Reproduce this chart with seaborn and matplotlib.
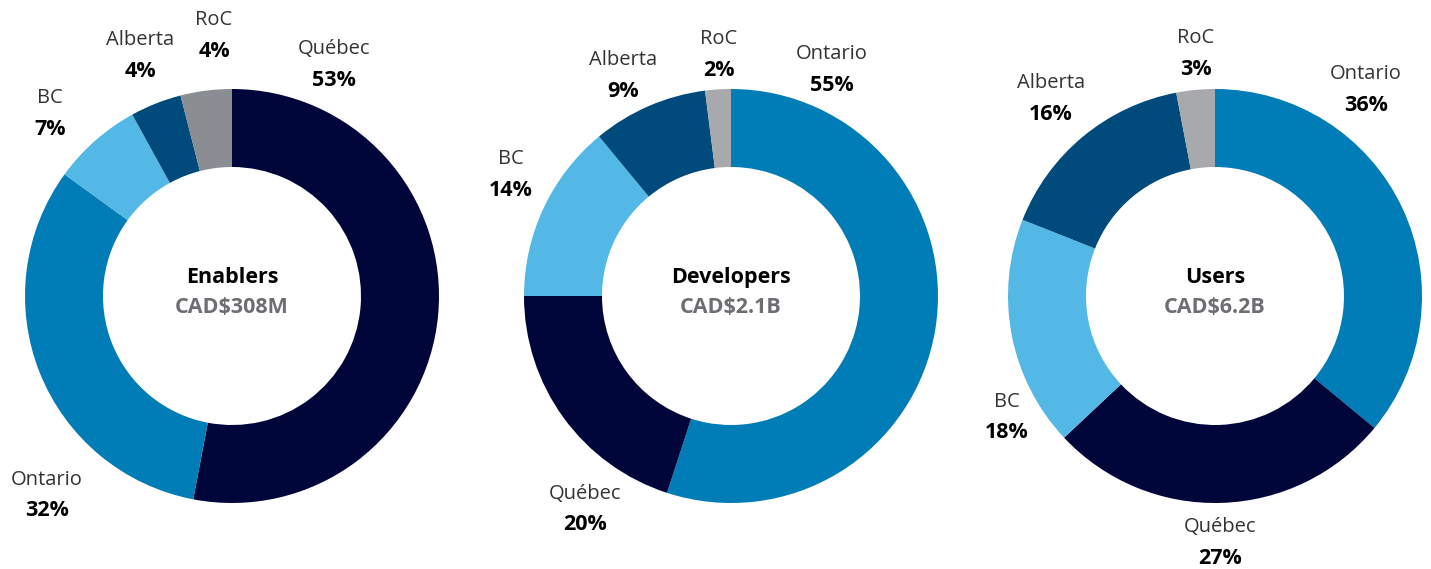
import matplotlib
matplotlib.use("Agg")
import matplotlib.pyplot as plt
import seaborn as sns

sns.set_theme(style="white")
plt.rcParams['font.family'] = ['Open Sans', 'DejaVu Sans']

# ---- data ----
titles = ["Enablers", "Developers", "Users"]
subtitles = ["CAD$308M", "CAD$2.1B", "CAD$6.2B"]
regions_1 = ["Québec", "Ontario", "BC", "Alberta", "RoC"]
values_1 = [53, 32, 7, 4, 4]
regions_2 = ["Ontario", "Québec", "BC", "Alberta", "RoC"]
values_2 = [55, 20, 14, 9, 2]
regions_3 = ["Ontario", "Québec", "BC", "Alberta", "RoC"]
values_3 = [36, 27, 18, 16, 3]

# ---- style ----
region_colors = {
    "Québec": "#00063A",
    "Ontario": "#007CB7",
    "BC": "#53B8E6",
    "Alberta": "#004A7C",
}
roc_colors = ["#8A8D91", "#A7A9AC", "#A7A9AC"]

W, H = 1431, 569
centers = [(232, 296), (731, 296), (1215, 296)]
R_OUT = 207
R_IN = 129

# label offsets (pixels, relative to chart centre) for name line
label_offsets = [
    {"Québec": (102, -247), "Ontario": (-185, 184), "BC": (-182, -198),
     "Alberta": (-92, -256), "RoC": (-18, -276)},
    {"Ontario": (101, -242), "Québec": (-146, 198), "BC": (-220, -137),
     "Alberta": (-108, -236), "RoC": (-12, -257)},
    {"Ontario": (151, -222), "Québec": (5, 231), "BC": (-208, 106),
     "Alberta": (-164, -213), "RoC": (-19, -258)},
]

fig = plt.figure(figsize=(W / 100, H / 100), dpi=100)
ax = fig.add_axes([0, 0, 1, 1])

all_regions = [regions_1, regions_2, regions_3]
all_values = [values_1, values_2, values_3]

for i in range(3):
    regs = all_regions[i]
    vals = all_values[i]
    cols = [region_colors.get(r, roc_colors[i]) for r in regs]
    cx, cy = centers[i]
    ax.pie(vals, colors=cols, startangle=90, counterclock=False,
           radius=R_OUT, center=(cx, H - cy),
           wedgeprops=dict(width=R_OUT - R_IN, edgecolor="none", linewidth=0))
    ax.text(cx, H - cy + 19, titles[i], ha="center", va="center",
            fontsize=15.5, fontweight="bold", color="#000000")
    ax.text(cx, H - cy - 11, subtitles[i], ha="center", va="center",
            fontsize=15.5, fontweight="bold", color="#6D6E71")
    for r, v in zip(regs, vals):
        dx, dy = label_offsets[i][r]
        lx, ly = cx + dx, H - (cy + dy)
        ax.text(lx, ly, r, ha="center", va="center", fontsize=14.5,
                color="#333333")
        ax.text(lx, ly - 31, f"{v}%", ha="center", va="center",
                fontsize=15.5, fontweight="bold", color="#000000")

ax.set_xlim(0, W)
ax.set_ylim(0, H)
ax.set_aspect("equal")
ax.axis("off")
fig.savefig("out.png", dpi=100, facecolor="white")
